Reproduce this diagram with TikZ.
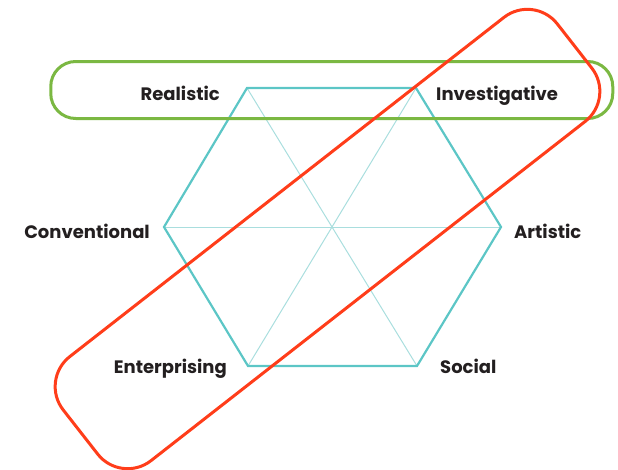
\documentclass[tikz,border=0pt]{standalone}
\usepackage{fontspec}
\setmainfont{Poppins}
\definecolor{hexc}{HTML}{5CC6C6}
\definecolor{innerc}{HTML}{A9DEDE}
\definecolor{grn}{HTML}{7BB842}
\definecolor{redc}{HTML}{FF3D1A}
\definecolor{txt}{HTML}{231F20}
\tikzset{
  lbl/.style={font=\fontsize{18}{20}\selectfont\bfseries, text=txt, inner sep=0pt},
  hexline/.style={draw=hexc, line width=2.2pt, line join=miter},
  innerline/.style={draw=innerc, line width=1pt},
  grpbox/.style={draw, line width=3pt, fill=none, inner sep=0pt, outer sep=0pt}
}
\begin{document}
\begin{tikzpicture}[x=1pt,y=-1pt]
\useasboundingbox (0,0) rectangle (618,469);
% hexagon vertices
\coordinate (R) at (247,88);
\coordinate (I) at (416,88);
\coordinate (A) at (501,227);
\coordinate (S) at (417,366);
\coordinate (E) at (248,366);
\coordinate (C) at (164,227);
% inner lines
\draw[innerline] (R) -- (S);
\draw[innerline] (I) -- (E);
\draw[innerline] (C) -- (A);
% hexagon
\draw[hexline] (R) -- (I) -- (A) -- (S) -- (E) -- (C) -- cycle;
% green box
\node[grpbox, draw=grn, rounded corners=25pt, minimum width=562pt, minimum height=57pt] (gbox) at (331.75,90) {};
% red box
\node[grpbox, draw=redc, rounded corners=38pt, minimum width=627pt, minimum height=132pt, rotate=38] (rbox) at (327.5,239) {};
% labels
\node[lbl, anchor=base east] (lR) at (220,100) {Realistic};
\node[lbl, anchor=base west] (lI) at (436,100) {Investigative};
\node[lbl, anchor=base east] (lC) at (150,238) {Conventional};
\node[lbl, anchor=base west] (lA) at (514,238) {Artistic};
\node[lbl, anchor=base east] (lE) at (227,373) {Enterprising};
\node[lbl, anchor=base west] (lS) at (440,373) {Social};
\end{tikzpicture}
\end{document}
